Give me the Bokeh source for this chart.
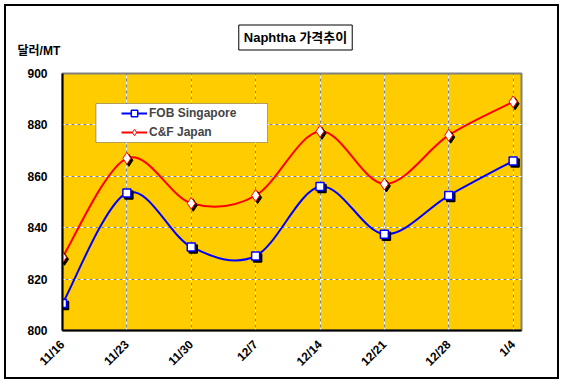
import math
from bokeh.plotting import figure
from bokeh.models import (Range1d, FixedTicker, Legend, LegendItem, Label, Grid, BoxAnnotation)
from bokeh.embed import file_html
from bokeh.resources import INLINE

# ---- data ----
dates = ["11/16", "11/23", "11/30", "12/7", "12/14", "12/21", "12/28", "1/4"]
fob_singapore = [810.5, 853.5, 832.5, 829.0, 856.0, 837.5, 852.5, 866.0]
cf_japan = [828.5, 867.0, 849.5, 852.5, 877.5, 857.0, 876.0, 889.0]
y_ticks = [800, 820, 840, 860, 880, 900]
title_text = "Naphtha 가격추이"
unit_text = "달러/MT"

FONT = "Liberation Sans, Noto Sans CJK KR"

# page geometry (content origin after 4px margin + 2px border)
OX, OY = 6, 6
W, H = 555, 375
ML, MR, MT, MB = 56, 40, 67, 51
X0, X1 = 0, 7.13
Y0, Y1 = 800, 900
FL, FT = OX + ML, OY + MT
FR, FB = OX + W - MR, OY + H - MB


def dx_(px):  # page x pixel -> data x
    return X0 + (px - FL) / (FR - FL) * (X1 - X0)


def dy_(py):  # page y pixel -> data y
    return Y1 - (py - FT) / (FB - FT) * (Y1 - Y0)


p = figure(width=W, height=H, output_backend="svg", toolbar_location=None,
           x_range=Range1d(X0, X1), y_range=Range1d(Y0, Y1),
           min_border_left=ML, min_border_right=MR,
           min_border_top=MT, min_border_bottom=MB)
p.styles = {"margin-left": "4px", "margin-top": "4px", "border": "2px solid black"}
p.background_fill_color = "#FFCC00"
p.border_fill_color = "white"
p.outline_line_color = "#808080"
p.outline_line_width = 2

xs = list(range(len(dates)))
xticker = FixedTicker(ticks=xs)
yticker = FixedTicker(ticks=y_ticks)

# axes
p.xaxis.ticker = xticker
p.xaxis.major_label_overrides = {i: d for i, d in enumerate(dates)}
p.xaxis.major_label_orientation = math.pi / 4
p.yaxis.ticker = yticker
for ax in (p.xaxis[0], p.yaxis[0]):
    ax.axis_line_color = "black"
    ax.axis_line_width = 2
    ax.major_tick_in = 0
    ax.major_tick_out = 0
    ax.minor_tick_line_color = None
    ax.major_label_text_font = FONT
    ax.major_label_text_font_style = "bold"
    ax.major_label_text_font_size = "12px"
    ax.major_label_text_color = "black"
p.yaxis.major_label_standoff = 15
p.xaxis.major_label_standoff = 12

# grids: gray solid under white dashes
p.xgrid.ticker = xticker
p.ygrid.ticker = yticker
for g in (p.xgrid[0], p.ygrid[0]):
    g.grid_line_color = "#808080"
    g.grid_line_width = 1
p.add_layout(Grid(dimension=0, ticker=xticker, grid_line_color="white",
                  grid_line_dash="3 3", grid_line_width=1))
p.add_layout(Grid(dimension=1, ticker=yticker, grid_line_color="white",
                  grid_line_dash="3 3", grid_line_width=1))


def smooth(xv, yv):
    n = len(xv)
    P = list(zip(xv, yv))
    out = {k: [] for k in ("x0", "y0", "x1", "y1", "cx0", "cy0", "cx1", "cy1")}
    for i in range(n - 1):
        pm = P[i - 1] if i > 0 else P[i]
        p0 = P[i]
        p1 = P[i + 1]
        p2 = P[i + 2] if i + 2 < n else P[i + 1]
        out["x0"].append(p0[0]); out["y0"].append(p0[1])
        out["x1"].append(p1[0]); out["y1"].append(p1[1])
        out["cx0"].append(p0[0] + (p1[0] - pm[0]) / 6)
        out["cy0"].append(p0[1] + (p1[1] - pm[1]) / 6)
        out["cx1"].append(p1[0] - (p2[0] - p0[0]) / 6)
        out["cy1"].append(p1[1] - (p2[1] - p0[1]) / 6)
    return out


sdx = dx_(FL + 2) - X0
sdy = Y1 - dy_(FT + 2)

series = [(fob_singapore, "#0000FF", "square", 8, 1.5, "FOB Singapore"),
          (cf_japan, "#FF0000", "diamond", 12, 1, "C&F Japan")]
items = []
for ys, col, mk, sz, lw, name in series:
    b = smooth(xs, ys)
    br = p.bezier(x0=b["x0"], y0=b["y0"], x1=b["x1"], y1=b["y1"],
                  cx0=b["cx0"], cy0=b["cy0"], cx1=b["cx1"], cy1=b["cy1"],
                  line_color=col, line_width=2)
    p.scatter([x + sdx for x in xs], [y - sdy for y in ys], marker=mk, size=sz,
              fill_color="black", line_color="black", line_width=lw)
    sr = p.scatter(xs, ys, marker=mk, size=sz, fill_color="white",
                   line_color=col, line_width=lw)
    items.append(LegendItem(label=name, renderers=[br, sr]))

# legend box
p.add_layout(BoxAnnotation(left=dx_(95.5), right=dx_(267), top=dy_(103), bottom=dy_(142),
                           fill_color="white", fill_alpha=1,
                           line_color="black", line_width=1, level="annotation"))
legend = Legend(items=items, location=(59, FB - 140), padding=0, margin=0,
                spacing=3, glyph_width=26, glyph_height=16, label_height=16,
                label_standoff=2, background_fill_alpha=0,
                border_line_color=None, label_text_font=FONT,
                label_text_font_style="bold", label_text_font_size="12px")
p.add_layout(legend, "center")

# title box with shadow (side panel -> not clipped to the frame)
TXc, TYc = 295, 37
p.add_layout(Label(x=dx_(TXc), y=dy_(TYc), x_offset=2, y_offset=-2,
                   text=title_text, text_font=FONT, text_font_style="bold",
                   text_font_size="13px", text_align="center", text_baseline="middle",
                   text_alpha=0, background_fill_color="black",
                   border_line_color="black", padding=5), "above")
p.add_layout(Label(x=dx_(TXc), y=dy_(TYc),
                   text=title_text, text_font=FONT, text_font_style="bold",
                   text_font_size="13px", text_align="center", text_baseline="middle",
                   text_color="black", background_fill_color="white",
                   border_line_color="black", padding=5), "above")
p.add_layout(Label(x=dx_(17), y=dy_(50),
                   text=unit_text, text_font=FONT, text_font_style="bold",
                   text_font_size="12px", text_align="left", text_baseline="middle",
                   text_color="black"), "above")

open("out.html", "w").write(file_html(p, INLINE))
